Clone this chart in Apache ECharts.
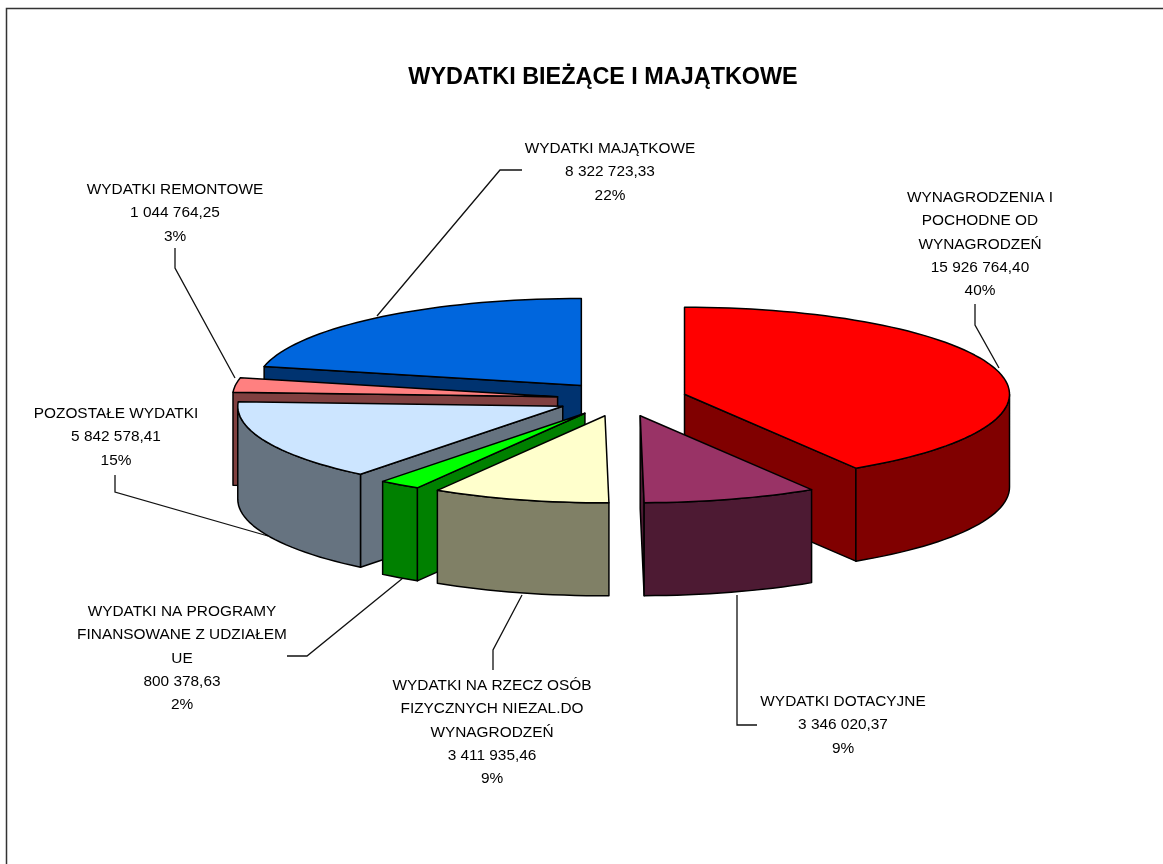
<!DOCTYPE html>
<html>
<head>
<meta charset="utf-8">
<style>
  html, body { margin: 0; padding: 0; background: #fff; }
  #chart { width: 1163px; height: 864px; }
</style>
<script src="https://cdn.jsdelivr.net/npm/echarts@6/dist/echarts.min.js"></script>
</head>
<body>
<div id="chart"></div>
<script>
// slices go clockwise from 12 o'clock
const names = [
  'WYNAGRODZENIA I\nPOCHODNE OD\nWYNAGRODZEŃ',
  'WYDATKI DOTACYJNE',
  'WYDATKI NA RZECZ OSÓB\nFIZYCZNYCH NIEZAL.DO\nWYNAGRODZEŃ',
  'WYDATKI NA PROGRAMY\nFINANSOWANE Z UDZIAŁEM\nUE',
  'POZOSTAŁE WYDATKI',
  'WYDATKI REMONTOWE',
  'WYDATKI MAJĄTKOWE'
]
const values = [15926764.40, 3346020.37, 3411935.46, 800378.63, 5842578.41, 1044764.25, 8322723.33]
const percents = ['40%', '9%', '9%', '2%', '15%', '3%', '22%']
const topColors = ['#FF0000', '#993366', '#FFFFCC', '#00FF00', '#CCE5FF', '#FF8080', '#0066DD']
const sideColors = ['#800000', '#4D1A33', '#808066', '#008000', '#667380', '#804040', '#003370']
// back to front, red goes under the purple slice
const drawOrder = [0, 6, 5, 4, 3, 2, 1]

// label centre x, y of first line
const labelPos = [[980, 198], [843, 702], [492, 686], [182, 612], [116, 414], [175, 190], [610, 149]]
const leaders = [
  [[975, 304], [975, 325], [999, 368]],
  [[757, 725], [737, 725], [737, 595]],
  [[493, 670], [493, 650], [522, 595]],
  [[287, 656], [307, 656], [403, 578]],
  [[115, 475], [115, 492], [268, 536]],
  [[175, 248], [175, 268], [235, 378]],
  [[522, 170], [500, 170], [377, 316]]
]

const cx = 622
const cy = 399
const rx = 325
const ry = 87
const depth = 93
const explode = 0.2
const lineHeight = 23.2

const total = values.reduce((a, b) => a + b, 0)
const starts = []
let sum = 0
values.forEach(v => {
  starts.push(sum / total * 360)
  sum += v
})

function fmt (v) {
  const parts = v.toFixed(2).split('.')
  return parts[0].replace(/\B(?=(\d{3})+$)/g, ' ') + ',' + parts[1]
}

function pt (ox, oy, deg) {
  const a = deg * Math.PI / 180
  return [ox + rx * Math.sin(a), oy - ry * Math.cos(a)]
}

function arc (ox, oy, a0, a1) {
  const pts = []
  const n = Math.max(2, Math.ceil((a1 - a0) / 2))
  for (let i = 0; i <= n; i++) pts.push(pt(ox, oy, a0 + (a1 - a0) * i / n))
  return pts
}

function down (pts) {
  return pts.map(p => [p[0], p[1] + depth]).reverse()
}

function facesFront (deg) {
  return Math.cos(deg * Math.PI / 180) < -0.001
}

function renderSlice (params, api) {
  const i = api.value(0)
  const a0 = starts[i]
  const a1 = a0 + api.value(1) / total * 360
  const mid = (a0 + a1) / 2 * Math.PI / 180
  const ox = cx + explode * rx * Math.sin(mid)
  const oy = cy - explode * ry * Math.cos(mid)
  const line = { stroke: '#000', lineWidth: 1.5, lineJoin: 'round' }
  const side = Object.assign({ fill: sideColors[i] }, line)
  const children = []
  const wall = (p, q) => children.push({
    type: 'polygon',
    shape: { points: [p, q].concat(down([p, q])) },
    style: side
  })
  // radial walls, only when turned towards the viewer
  if (facesFront(a0 - 90)) wall([ox, oy], pt(ox, oy, a0))
  if (facesFront(a1 + 90)) wall([ox, oy], pt(ox, oy, a1))
  // only the front half of the rim can be seen
  const f0 = Math.max(a0, 90)
  const f1 = Math.min(a1, 270)
  if (f1 > f0) {
    const rim = arc(ox, oy, f0, f1)
    children.push({
      type: 'polygon',
      shape: { points: rim.concat(down(rim)) },
      style: side
    })
  }
  children.push({
    type: 'polygon',
    shape: { points: [[ox, oy]].concat(arc(ox, oy, a0, a1)) },
    style: Object.assign({ fill: topColors[i] }, line)
  })
  return { type: 'group', children: children }
}

function renderLabel (params, api) {
  const i = api.value(0)
  const text = names[i] + '\n' + fmt(api.value(1)) + '\n' + percents[i]
  return {
    type: 'group',
    children: [
      {
        type: 'text',
        style: {
          x: labelPos[i][0],
          y: labelPos[i][1] - lineHeight / 2,
          text: text,
          align: 'center',
          verticalAlign: 'top',
          fill: '#000',
          font: '15.4px "Liberation Sans", Arial, sans-serif',
          lineHeight: lineHeight
        }
      },
      {
        type: 'polyline',
        shape: { points: leaders[i] },
        style: { stroke: '#111', lineWidth: 1.3, fill: null }
      }
    ]
  }
}

const sliceData = values.map((v, i) => [i, v])

const myChart = echarts.init(document.getElementById('chart'), null, { renderer: 'canvas' })
myChart.setOption({
  animation: false,
  backgroundColor: '#fff',
  title: {
    text: 'WYDATKI BIEŻĄCE I MAJĄTKOWE',
    left: 598,
    top: 61,
    textAlign: 'center',
    textStyle: {
      color: '#000',
      fontFamily: '"Liberation Sans", Arial, sans-serif',
      fontWeight: 'bold',
      fontSize: 23.4
    }
  },
  graphic: [{
    type: 'polyline',
    shape: { points: [[6.5, 870], [6.5, 8.5], [1170, 8.5]] },
    style: { stroke: '#333', lineWidth: 1.5, fill: null },
    silent: true
  }],
  series: [
    {
      type: 'custom',
      coordinateSystem: 'none',
      renderItem: renderLabel,
      data: sliceData,
      z: 1,
      silent: true
    },
    {
      type: 'custom',
      coordinateSystem: 'none',
      renderItem: renderSlice,
      data: drawOrder.map(i => sliceData[i]),
      z: 2,
      silent: true
    }
  ]
})
</script>
</body>
</html>
